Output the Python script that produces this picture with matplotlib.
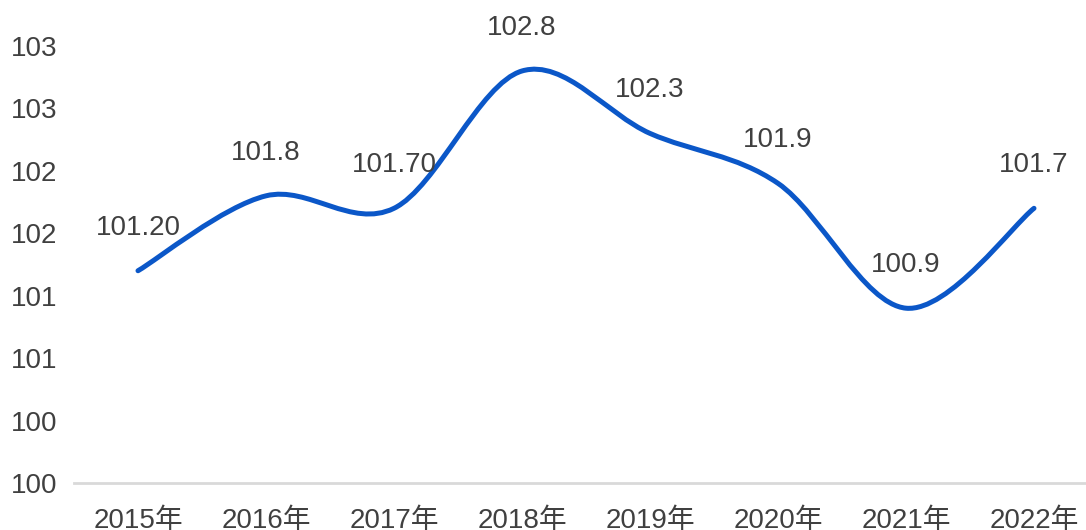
import numpy as np
import matplotlib.pyplot as plt
from matplotlib.path import Path
from matplotlib.patches import PathPatch

years = ["2015年", "2016年", "2017年", "2018年", "2019年", "2020年", "2021年", "2022年"]
values = [101.2, 101.8, 101.7, 102.8, 102.3, 101.9, 100.9, 101.7]
point_labels = ["101.20", "101.8", "101.70", "102.8", "102.3", "101.9", "100.9", "101.7"]
y_ticks = [99.5, 100, 100.5, 101, 101.5, 102, 102.5, 103]

plt.rcParams['font.family'] = ['Liberation Sans', 'Noto Sans CJK SC', 'DejaVu Sans']
text_color = '#404040'
line_color = '#0B57C8'

fig = plt.figure(figsize=(10.86, 5.30), dpi=100)
ax = fig.add_axes([74 / 1086, 47 / 530, 1024 / 1086, 437 / 530])

x = np.arange(len(values))
y = np.array(values)

# smoothed line, catmull-rom style bezier segments (like excel's smoothed line)
verts = [(x[0], y[0])]
codes = [Path.MOVETO]
n = len(x)
for i in range(n - 1):
    p0 = (x[max(i - 1, 0)], y[max(i - 1, 0)])
    p1 = (x[i], y[i])
    p2 = (x[i + 1], y[i + 1])
    p3 = (x[min(i + 2, n - 1)], y[min(i + 2, n - 1)])
    c1 = (p1[0] + (p2[0] - p0[0]) / 6, p1[1] + (p2[1] - p0[1]) / 6)
    c2 = (p2[0] - (p3[0] - p1[0]) / 6, p2[1] - (p3[1] - p1[1]) / 6)
    verts += [c1, c2, p2]
    codes += [Path.CURVE4] * 3
ax.add_patch(PathPatch(Path(verts, codes), facecolor='none', edgecolor=line_color,
                       lw=3.6, capstyle='round', joinstyle='round'))

for xi, yi, lab in zip(x, y, point_labels):
    ax.annotate(lab, (xi, yi), xytext=(0, 31), textcoords='offset points',
                ha='center', va='center', fontsize=20, color=text_color)

ax.set_xlim(-0.5, len(values) - 0.5)
ax.set_ylim(99.5, 103)
ax.set_xticks(x)
ax.set_xticklabels(years)
ax.set_yticks(y_ticks)
ax.set_yticklabels([str(int(np.floor(t + 0.5))) for t in y_ticks])
ax.tick_params(axis='both', length=0, labelsize=20, colors=text_color)
ax.tick_params(axis='x', pad=18)
ax.tick_params(axis='y', pad=12)

for s in ['top', 'right', 'left']:
    ax.spines[s].set_visible(False)
ax.spines['bottom'].set_color('#D9D9D9')
ax.spines['bottom'].set_linewidth(2)

fig.savefig('out.png', dpi=100)
